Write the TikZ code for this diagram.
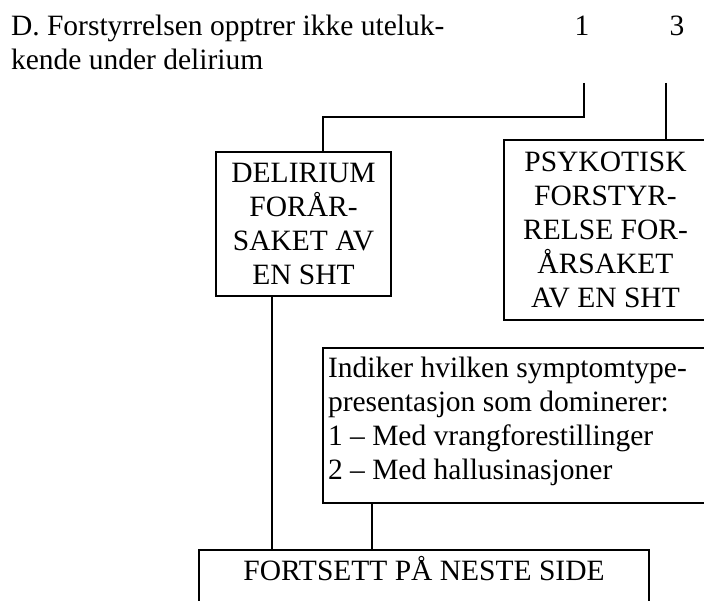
\documentclass[tikz,border=0pt]{standalone}
\usepackage{fontspec}
\setmainfont{Liberation Serif}
\begin{document}
\begin{tikzpicture}[x=1pt,y=-1pt,
  txt/.style={font=\fontsize{29.5}{34}\selectfont, inner sep=0pt, outer sep=0pt},
  box/.style={draw, line width=2pt, inner sep=0pt, outer sep=0pt, anchor=north west,
              font=\fontsize{29.5}{34}\selectfont, align=center},
  wire/.style={line width=2pt}]
\clip (0,0) rectangle (704,601);
\fill[white] (0,0) rectangle (704,601);

% question and answer columns (base anchor = last line)
\node[txt, align=left, anchor=base west] (qd) at (11,70)
  {D. Forstyrrelsen opptrer ikke uteluk-\\kende under delirium};
\node[txt, anchor=base] (n1) at (582,36) {1};
\node[txt, anchor=base] (n3) at (677,36) {3};

% diagnosis boxes
\node[box, minimum width=175, minimum height=144] (del) at (216,152)
  {DELIRIUM\\FORÅR-\\SAKET AV\\EN SHT};
\node[box, minimum width=203, minimum height=180] (psy) at (504,140)
  {PSYKOTISK\\FORSTYR-\\RELSE FOR-\\ÅRSAKET\\AV EN SHT};

% specifier box
\node[box, minimum width=386, minimum height=155] (ind) at (323,348) {};
\node[txt, align=left, anchor=base west] (indtxt) at (328,479)
  {Indiker hvilken symptomtype-\\presentasjon som dominerer:\\1 -- Med vrangforestillinger\\2 -- Med hallusinasjoner};

% continuation box
\node[box, minimum width=450, minimum height=80] (next) at (199,550) {};
\node[txt, anchor=base] (nexttxt) at (424,580) {FORTSETT PÅ NESTE SIDE};

% connectors
\coordinate (t1) at (584,83);
\coordinate (t3) at (666,83);
\coordinate (j1) at (323,117);
\coordinate (c1) at (272,0);
\coordinate (c2) at (372,0);
\draw[wire] (t1) |- (j1) -- (j1 |- del.north);
\draw[wire] (t3) -- (t3 |- psy.north);
\draw[wire] (c1 |- del.south) -- (c1 |- next.north);
\draw[wire] (c2 |- ind.south) -- (c2 |- next.north);
\end{tikzpicture}
\end{document}
